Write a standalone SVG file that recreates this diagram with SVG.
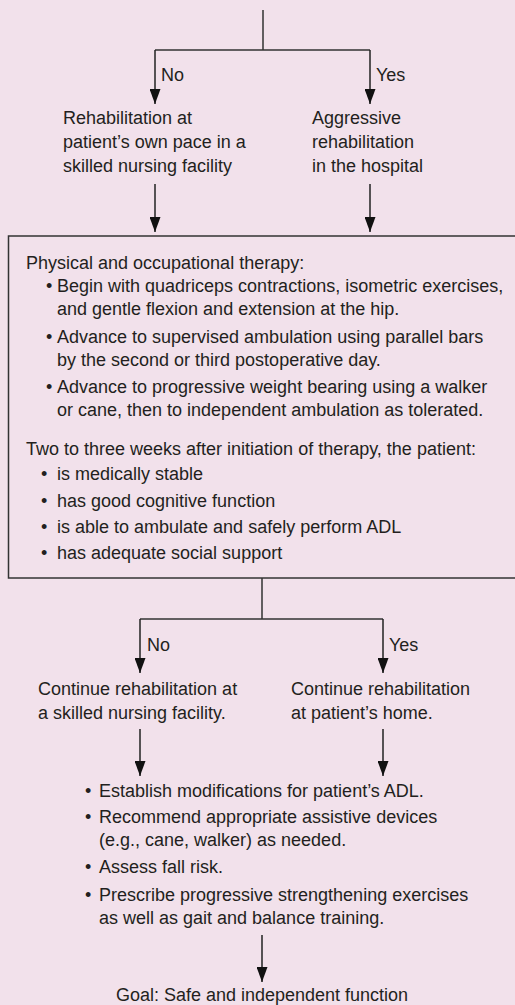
<svg xmlns="http://www.w3.org/2000/svg" width="515" height="1005" viewBox="0 0 515 1005">
<defs>
<marker id="ah" viewBox="0 0 15 11" refX="15" refY="5.5" markerWidth="15" markerHeight="11" markerUnits="userSpaceOnUse" orient="auto">
<path d="M0,0 L15,5.5 L0,11 Z" fill="#111"/>
</marker>
<style>
text{font-family:"Liberation Sans",Arial,sans-serif;font-size:18px;fill:#231f20}
.ln{fill:none;stroke:#333;stroke-width:1.5}
.ar{fill:none;stroke:#222;stroke-width:1.5}
</style>
</defs>
<rect width="515" height="1005" fill="#f2e1eb"/>
<g id="connectors">
<path class="ln" d="M263,10 V50 M155,50 H370"/>
<path class="ar" d="M155,50 V104" marker-end="url(#ah)"/>
<path class="ar" d="M370,50 V104" marker-end="url(#ah)"/>
<path class="ar" d="M155,184 V232" marker-end="url(#ah)"/>
<path class="ar" d="M370,184 V232" marker-end="url(#ah)"/>
<path class="ln" d="M262,578 V619 M140,619 H383"/>
<path class="ar" d="M140,619 V673" marker-end="url(#ah)"/>
<path class="ar" d="M383,619 V673" marker-end="url(#ah)"/>
<path class="ar" d="M140,729 V776" marker-end="url(#ah)"/>
<path class="ar" d="M383,729 V776" marker-end="url(#ah)"/>
<path class="ar" d="M262,935 V982" marker-end="url(#ah)"/>
<text x="161" y="81">No</text>
<text x="376" y="81">Yes</text>
<text x="147" y="651">No</text>
<text x="389" y="651">Yes</text>
</g>
<g id="node-snf">
<text x="63" y="124">Rehabilitation at</text>
<text x="63" y="148">patient’s own pace in a</text>
<text x="63" y="172">skilled nursing facility</text>
</g>
<g id="node-hospital">
<text x="312" y="124">Aggressive</text>
<text x="312" y="148">rehabilitation</text>
<text x="312" y="172">in the hospital</text>
</g>
<g id="node-therapy">
<rect x="8.5" y="236" width="530" height="342" fill="none" stroke="#333" stroke-width="1.5"/>
<text x="26" y="269">Physical and occupational therapy:</text>
<text x="46" y="292">•</text><text x="57" y="292">Begin with quadriceps contractions, isometric exercises,</text>
<text x="57" y="315">and gentle flexion and extension at the hip.</text>
<text x="46" y="343">•</text><text x="57" y="343">Advance to supervised ambulation using parallel bars</text>
<text x="57" y="366">by the second or third postoperative day.</text>
<text x="46" y="393">•</text><text x="57" y="393">Advance to progressive weight bearing using a walker</text>
<text x="57" y="416">or cane, then to independent ambulation as tolerated.</text>
<text x="26" y="455">Two to three weeks after initiation of therapy, the patient:</text>
<text x="41" y="480">•</text><text x="57" y="480">is medically stable</text>
<text x="41" y="507">•</text><text x="57" y="507">has good cognitive function</text>
<text x="41" y="533">•</text><text x="57" y="533">is able to ambulate and safely perform ADL</text>
<text x="41" y="559">•</text><text x="57" y="559">has adequate social support</text>
</g>
<g id="node-snf2">
<text x="38" y="695">Continue rehabilitation at</text>
<text x="38" y="719">a skilled nursing facility.</text>
</g>
<g id="node-home">
<text x="291" y="695">Continue rehabilitation</text>
<text x="291" y="719">at patient’s home.</text>
</g>
<g id="node-actions">
<text x="85" y="797">•</text><text x="99" y="797">Establish modifications for patient’s ADL.</text>
<text x="85" y="823">•</text><text x="99" y="823">Recommend appropriate assistive devices</text>
<text x="99" y="846">(e.g., cane, walker) as needed.</text>
<text x="85" y="873">•</text><text x="99" y="873">Assess fall risk.</text>
<text x="85" y="901">•</text><text x="99" y="901">Prescribe progressive strengthening exercises</text>
<text x="99" y="924">as well as gait and balance training.</text>
</g>
<g id="node-goal">
<text x="262" y="1001" text-anchor="middle">Goal: Safe and independent function</text>
</g>
</svg>
